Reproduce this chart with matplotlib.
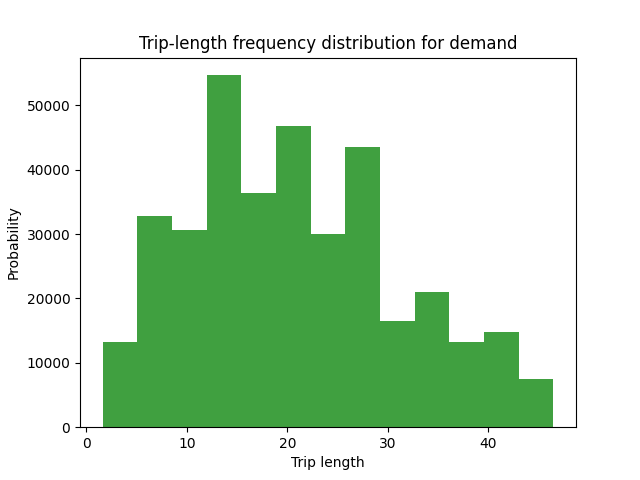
import numpy as np
import matplotlib
matplotlib.use('Agg')
import matplotlib.pyplot as plt

# histogram of trip lengths, 13 bins between min and max trip length
trip_min = 1.6
trip_max = 46.5
n_bins = 13
counts = [13300, 32800, 30650, 54700, 36400, 46800, 30000,
          43500, 16500, 21000, 13200, 14750, 7450]

edges = np.linspace(trip_min, trip_max, n_bins + 1)
centers = (edges[:-1] + edges[1:]) / 2

fig, ax = plt.subplots(figsize=(6.4, 4.8), dpi=100)
ax.hist(centers, bins=edges, weights=counts, color='green', alpha=0.75)
ax.set_xlabel('Trip length')
ax.set_ylabel('Probability')
ax.set_title('Trip-length frequency distribution for demand')

fig.savefig('out.png')
